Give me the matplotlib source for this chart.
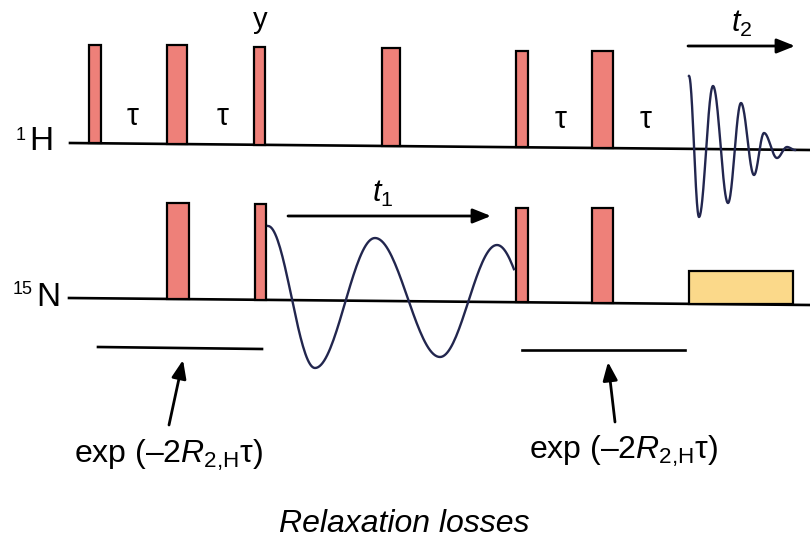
import numpy as np
import matplotlib
matplotlib.use("Agg")
import matplotlib.pyplot as plt
from matplotlib.patches import Rectangle

plt.rcParams["font.family"] = ["Liberation Sans", "DejaVu Sans"]
plt.rcParams["mathtext.fontset"] = "custom"
plt.rcParams["mathtext.rm"] = "Liberation Sans"
plt.rcParams["mathtext.it"] = "Liberation Sans:italic"

# channel baselines (x0, x1) -> (y0, y1), drawn in pixel coordinates
h_line_x = [70, 810]
h_line_y = [143, 150]
n_line_x = [69, 810]
n_line_y = [298, 305]

# 1H pulses: left edge, right edge, top
h_pulse_left = [89, 167, 254, 382, 516, 592]
h_pulse_right = [101, 187, 265, 400, 528, 613]
h_pulse_top = [45, 45, 47, 48, 51, 51]

# 15N pulses
n_pulse_left = [167, 255, 516, 592]
n_pulse_right = [189, 266, 528, 613]
n_pulse_top = [203, 204, 208, 208]

# decoupling block during acquisition
dec_left, dec_right, dec_top = 689, 793, 271

# t1 evolution wave: extrema positions (last one is only reached partially)
t1_ext_x = [268, 315, 375, 440, 497, 552]
t1_ext_y = [226, 368, 238, 357, 245, 357]
t1_end_x = 514

# FID in t2: extrema positions
fid_ext_x = [689, 699, 713, 728, 741, 754, 764, 777, 787, 795]
fid_ext_y = [76, 217, 86, 203, 103, 175, 133, 158, 147, 150]

# relaxation bars and arrows
relax_bars = [(98, 262, 347, 349), (522, 685, 350, 350)]
relax_arrows = [((169, 425), (183, 360)), ((615, 422), (608, 362))]

PULSE = "#ee8079"
DEC = "#fbd98a"
WAVE = "#22264e"


def wave_path(ext_x, ext_y, x_end=None):
    # smooth half-cosine segments between consecutive extrema
    xs, ys = [], []
    for i in range(len(ext_x) - 1):
        s = np.linspace(0, 1, 40)
        x = ext_x[i] + (ext_x[i + 1] - ext_x[i]) * s
        y = ext_y[i] + (ext_y[i + 1] - ext_y[i]) * (1 - np.cos(np.pi * s)) / 2
        xs.append(x)
        ys.append(y)
    xs = np.concatenate(xs)
    ys = np.concatenate(ys)
    if x_end is not None:
        keep = xs <= x_end
        xs, ys = xs[keep], ys[keep]
    return xs, ys


fig = plt.figure(figsize=(8.1, 5.47), dpi=100)
ax = fig.add_axes([0, 0, 1, 1])
ax.set_xlim(0, 810)
ax.set_ylim(547, 0)
ax.axis("off")

# baselines
ax.plot(h_line_x, h_line_y, color="black", lw=1.9, zorder=2)
ax.plot(n_line_x, n_line_y, color="black", lw=1.9, zorder=2)


def draw_pulses(lefts, rights, tops, bx, by, color):
    for l, r, t in zip(lefts, rights, tops):
        base = np.interp((l + r) / 2, bx, by)
        ax.add_patch(Rectangle((l, t), r - l, base - t, facecolor=color,
                               edgecolor="black", lw=1.6, zorder=3))


draw_pulses(h_pulse_left, h_pulse_right, h_pulse_top, h_line_x, h_line_y, PULSE)
draw_pulses(n_pulse_left, n_pulse_right, n_pulse_top, n_line_x, n_line_y, PULSE)
draw_pulses([dec_left], [dec_right], [dec_top], n_line_x, n_line_y, DEC)

# t1 modulation and FID
wx, wy = wave_path(t1_ext_x, t1_ext_y, t1_end_x)
ax.plot(wx, wy, color=WAVE, lw=1.7, zorder=4)
fx, fy = wave_path(fid_ext_x, fid_ext_y)
ax.plot(fx, fy, color=WAVE, lw=1.7, zorder=4)

# time arrows
arrow = dict(arrowstyle="-|>,head_length=0.5,head_width=0.2", color="black",
             lw=2, mutation_scale=22, shrinkA=0, shrinkB=0)
ax.annotate("", xy=(491, 216), xytext=(288, 216), arrowprops=arrow)
ax.annotate("", xy=(795, 46), xytext=(688, 46), arrowprops=arrow)
ax.text(383, 194, "$t_{\\mathit{1}}$", fontsize=22, ha="center", va="center")
ax.text(742, 24, "$t_{\\mathit{2}}$", fontsize=22, ha="center", va="center")

# relaxation periods
for x0, x1, y0, y1 in relax_bars:
    ax.plot([x0, x1], [y0, y1], color="black", lw=1.9)
for tail, tip in relax_arrows:
    ax.annotate("", xy=tip, xytext=tail, arrowprops=arrow)

label = "exp (\u20132$R_{\\mathrm{2{,}H}}$\u03c4)"
ax.text(168, 455, label, fontsize=23, ha="center", va="center")
ax.text(623, 451, label, fontsize=23, ha="center", va="center")
ax.text(404, 524, "Relaxation losses", fontsize=23, style="italic",
        ha="center", va="center")

# delays and phase
for x, y in [(133, 117), (223, 117), (561, 120), (646, 120)]:
    ax.text(x, y, "\u03c4", fontsize=22, ha="center", va="center")
ax.text(260, 20, "y", fontsize=21, ha="center", va="center")

# channel labels
ax.text(21, 135, "1", fontsize=13, ha="center", va="center")
ax.text(41, 142, "H", fontsize=24, ha="center", va="center")
ax.text(23, 290, "15", fontsize=13, ha="center", va="center")
ax.text(48, 298, "N", fontsize=24, ha="center", va="center")

fig.savefig("out.png", dpi=100)
